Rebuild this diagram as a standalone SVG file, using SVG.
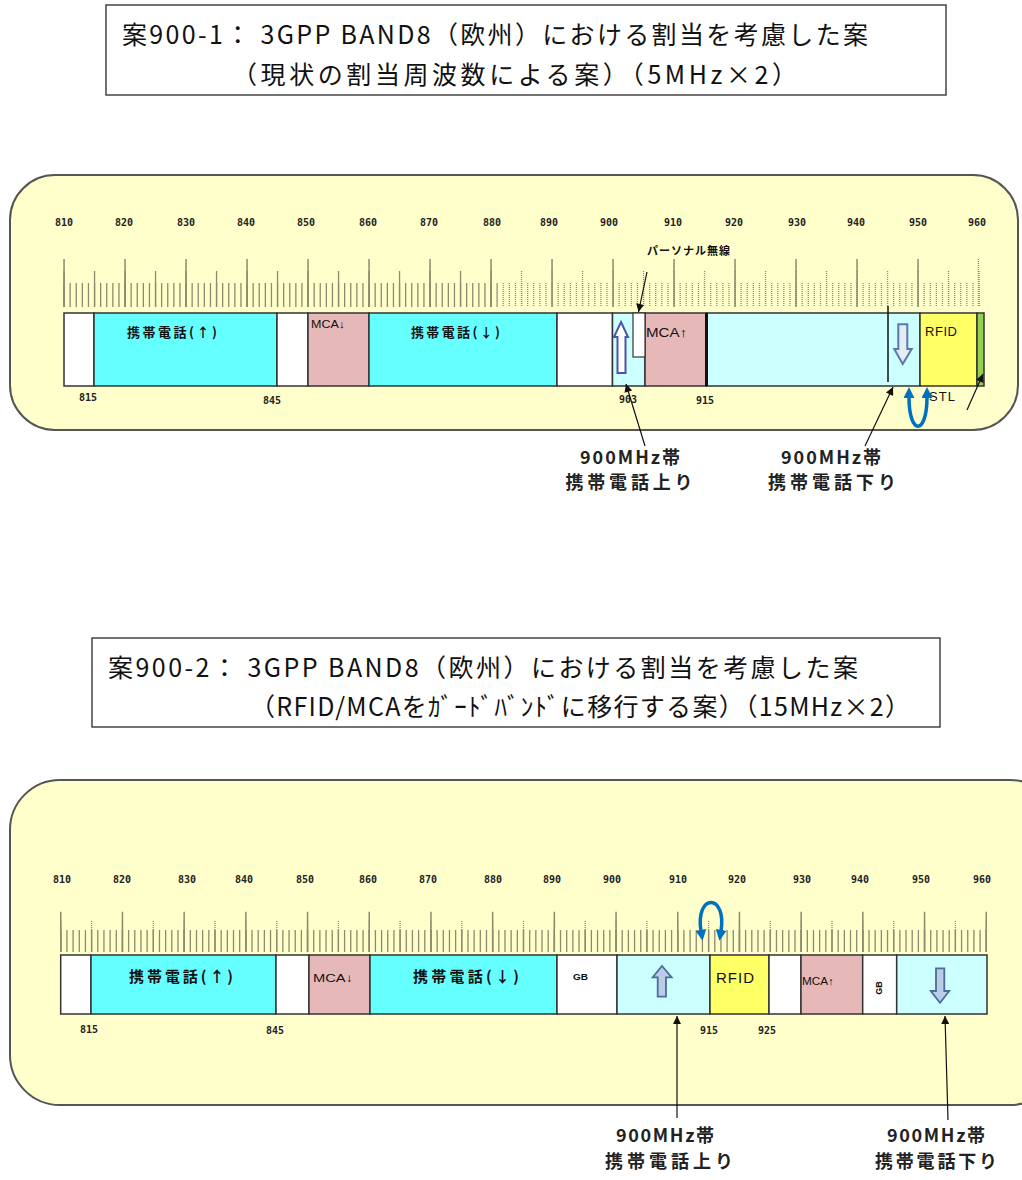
<svg xmlns="http://www.w3.org/2000/svg" width="1022" height="1180" viewBox="0 0 1022 1180">
<defs>
<style>
.title{font-family:"Noto Sans CJK JP","Liberation Sans",sans-serif;font-size:25px;fill:#111}
.panel{fill:#FFFFCC;stroke:#555;stroke-width:2}
.tbox{fill:#fff;stroke:#444;stroke-width:1.5}
.blk{stroke:#333;stroke-width:1.5}
.w{fill:#fff}.c{fill:#66FFFF}.lc{fill:#CCFFFF}.p{fill:#E6B9B8}.y{fill:#FFFF66}.g{fill:#92D050}
.tk{stroke:#8E8A6C;fill:none}
.num{font-family:"DejaVu Sans Mono","Liberation Mono",monospace;font-weight:bold;font-size:10px;fill:#222;text-anchor:middle}
.jb{font-family:"Noto Sans CJK JP",sans-serif;font-weight:bold;fill:#111}
.lat{font-family:"Liberation Sans",sans-serif;fill:#111}
.lbl{font-family:"Noto Sans CJK JP",sans-serif;font-weight:bold;font-size:18px;fill:#222;text-anchor:middle}
.ptr{stroke:#111;stroke-width:1.2;fill:none}
.blue{stroke:#0070C0;stroke-width:3.5;fill:none}
</style>
<pattern id="stripe" width="4" height="2" patternUnits="userSpaceOnUse"><rect width="4" height="1" fill="#FFFFCC"/></pattern>
<marker id="ah" viewBox="0 0 10 10" refX="10" refY="5" markerWidth="9" markerHeight="8" orient="auto" markerUnits="userSpaceOnUse"><path d="M0,0 L10,5 L0,10 Z" fill="#111"/></marker>
<marker id="bh" viewBox="0 0 10 10" refX="1" refY="5" markerWidth="11" markerHeight="11" orient="auto-start-reverse" markerUnits="userSpaceOnUse"><path d="M0,0 L10,5 L0,10 Z" fill="#0070C0"/></marker>
</defs>

<!-- ============ TOP ============ -->
<g id="title1">
<rect class="tbox" x="106" y="5" width="840" height="90"/>
<text class="title" x="122" y="44" textLength="746">案900-1： 3GPP BAND8（欧州）における割当を考慮した案</text>
<text class="title" x="232" y="84" textLength="565">（現状の割当周波数による案）（5MHz×2）</text>
</g>

<g id="panel1"><rect class="panel" x="10" y="175" width="1008" height="255" rx="45"/></g>

<g id="scale1">
<line class="tk" x1="502.6" y1="295" x2="980" y2="295" stroke-width="24" stroke-dasharray="1.3 4.8"/>
<line class="tk" x1="520.9" y1="289" x2="980" y2="289" stroke-width="36" stroke-dasharray="1.3 29.2"/>
<line class="tk" x1="978.4" y1="259" x2="978.4" y2="307" stroke-width="1.4"/>
<rect x="500" y="259" width="490" height="48" fill="url(#stripe)"/>
<line class="tk" x1="63.4" y1="295" x2="497.7" y2="295" stroke-width="24" stroke-dasharray="1.3 4.8"/>
<line class="tk" x1="63.4" y1="289" x2="497.7" y2="289" stroke-width="36" stroke-dasharray="1.3 29.2"/>
<line class="tk" x1="63.3" y1="283" x2="920" y2="283" stroke-width="48" stroke-dasharray="1.5 59.5"/>
<text class="num" x="64" y="226">810</text>
<text class="num" x="124" y="226">820</text>
<text class="num" x="186" y="226">830</text>
<text class="num" x="246" y="226">840</text>
<text class="num" x="306" y="226">850</text>
<text class="num" x="368" y="226">860</text>
<text class="num" x="429" y="226">870</text>
<text class="num" x="492" y="226">880</text>
<text class="num" x="549" y="226">890</text>
<text class="num" x="609" y="226">900</text>
<text class="num" x="673" y="226">910</text>
<text class="num" x="734" y="226">920</text>
<text class="num" x="797" y="226">930</text>
<text class="num" x="856" y="226">940</text>
<text class="num" x="918" y="226">950</text>
<text class="num" x="977" y="226">960</text>
</g>

<g id="band1">
<rect class="blk w" x="64" y="313" width="30" height="73"/>
<rect class="blk c" x="94" y="313" width="183" height="73"/>
<rect class="blk w" x="277" y="313" width="31" height="73"/>
<rect class="blk p" x="308" y="313" width="61" height="73"/>
<rect class="blk c" x="369" y="313" width="188" height="73"/>
<rect class="blk w" x="557" y="313" width="55.5" height="73"/>
<rect class="blk lc" x="612.5" y="313" width="32.5" height="73"/>
<rect class="blk p" x="645" y="313" width="61.5" height="73"/>
<rect class="blk lc" x="706.5" y="313" width="213.5" height="73"/>
<rect class="blk y" x="920" y="313" width="57" height="73"/>
<rect class="blk g" x="977" y="313" width="7" height="73"/>
<rect x="633" y="313" width="12" height="44" fill="#fff" stroke="#333" stroke-width="1.2"/>
<line x1="706.5" y1="313" x2="706.5" y2="386" stroke="#111" stroke-width="3"/>
<line x1="888" y1="306" x2="888" y2="382" stroke="#111" stroke-width="1.5"/>
<path d="M621,322 L628,337 L625.5,337 L625.5,373 L617.5,373 L617.5,337 L614,337 Z" fill="#fff" stroke="#5050B0" stroke-width="2"/>
<path d="M898.3,324.3 L907.3,324.3 L907.3,349 L911.7,349 L902.7,364 L894.3,349 L898.3,349 Z" fill="#E4ECF6" stroke="#5A78A8" stroke-width="2"/>
<text class="jb" x="127" y="337" font-size="13" textLength="90">携帯電話(↑)</text>
<text class="lat" x="311" y="328" font-size="11" textLength="34" lengthAdjust="spacingAndGlyphs">MCA↓</text>
<text class="jb" x="411" y="337" font-size="13" textLength="89">携帯電話(↓)</text>
<text class="lat" x="646" y="337" font-size="12.5" textLength="41" lengthAdjust="spacingAndGlyphs">MCA↑</text>
<text class="lat" x="925" y="336" font-size="13" textLength="32">RFID</text>
<text class="lat" x="929" y="401" font-size="13" textLength="26">STL</text>
<text class="jb" x="647" y="255" font-size="11" font-weight="normal" textLength="83">パーソナル無線</text>
<text class="num" x="88" y="401">815</text>
<text class="num" x="272" y="404">845</text>
<text class="num" x="628" y="403">903</text>
<text class="num" x="705" y="404">915</text>
</g>

<g id="connectors1">
<path class="ptr" d="M647,272 L638.5,312" marker-end="url(#ah)"/>
<path class="ptr" d="M645,446 L626,384" marker-end="url(#ah)"/>
<path class="ptr" d="M865,446 L893,387" marker-end="url(#ah)"/>
<path class="ptr" d="M967,410 L983,374" marker-end="url(#ah)"/>
<path class="blue" d="M909,397 C909,436 927,436 927,397" marker-start="url(#bh)" marker-end="url(#bh)"/>
</g>

<g id="labels1">
<text class="lbl" x="630" y="464" textLength="100">900MHz帯</text>
<text class="lbl" x="629" y="489" textLength="127">携帯電話上り</text>
<text class="lbl" x="831" y="464" textLength="100">900MHz帯</text>
<text class="lbl" x="832" y="489" textLength="128">携帯電話下り</text>
</g>

<!-- ============ BOTTOM ============ -->
<g id="title2">
<rect class="tbox" x="92" y="638" width="848" height="89"/>
<text class="title" x="108" y="677" textLength="750">案900-2： 3GPP BAND8（欧州）における割当を考慮した案</text>
<text class="title" x="250" y="716" textLength="660">（RFID/MCAをｶﾞｰﾄﾞﾊﾞﾝﾄﾞに移行する案）（15MHz×2）</text>
</g>

<g id="panel2"><rect class="panel" x="10" y="780" width="1050" height="325" rx="50"/></g>

<g id="scale2">
<line class="tk" x1="60.1" y1="941" x2="987" y2="941" stroke-width="22" stroke-dasharray="1.3 4.87"/>
<line class="tk" x1="60.1" y1="936.5" x2="987" y2="936.5" stroke-width="31" stroke-dasharray="1.3 29.55"/>
<rect x="70" y="921" width="920" height="9" fill="url(#stripe)"/>
<line class="tk" x1="60" y1="931.8" x2="987" y2="931.8" stroke-width="40" stroke-dasharray="1.5 60.2"/>
<text class="num" x="62" y="883">810</text>
<text class="num" x="122" y="883">820</text>
<text class="num" x="187" y="883">830</text>
<text class="num" x="244" y="883">840</text>
<text class="num" x="305" y="883">850</text>
<text class="num" x="368" y="883">860</text>
<text class="num" x="428" y="883">870</text>
<text class="num" x="493" y="883">880</text>
<text class="num" x="552" y="883">890</text>
<text class="num" x="612" y="883">900</text>
<text class="num" x="678" y="883">910</text>
<text class="num" x="737" y="883">920</text>
<text class="num" x="802" y="883">930</text>
<text class="num" x="860" y="883">940</text>
<text class="num" x="921" y="883">950</text>
<text class="num" x="982" y="883">960</text>
</g>

<g id="band2">
<rect class="blk w" x="60.7" y="955" width="30.3" height="59"/>
<rect class="blk c" x="91" y="955" width="185" height="59"/>
<rect class="blk w" x="276" y="955" width="33" height="59"/>
<rect class="blk p" x="309" y="955" width="61" height="59"/>
<rect class="blk c" x="370" y="955" width="187" height="59"/>
<rect class="blk w" x="557" y="955" width="60" height="59"/>
<rect class="blk lc" x="617" y="955" width="93" height="59"/>
<rect class="blk y" x="710" y="955" width="59" height="59"/>
<rect class="blk w" x="769" y="955" width="32" height="59"/>
<rect class="blk p" x="801" y="955" width="61.7" height="59"/>
<rect class="blk w" x="862.7" y="955" width="34" height="59"/>
<rect class="blk lc" x="896.7" y="955" width="90.3" height="59"/>
<path d="M662,966 L671.7,977.3 L666,977.3 L666,996.7 L657.7,996.7 L657.7,977.3 L652.7,977.3 Z" fill="#B9CDE5" stroke="#4F6B9B" stroke-width="1.8"/>
<path d="M936,968.3 L944.3,968.3 L944.3,991 L949.3,991 L940,1002.7 L930.7,991 L936,991 Z" fill="#B9CDE5" stroke="#4F6B9B" stroke-width="1.8"/>
<text class="jb" x="129" y="982" font-size="15" textLength="104">携帯電話(↑)</text>
<text class="lat" x="313" y="982" font-size="11.5" textLength="40" lengthAdjust="spacingAndGlyphs">MCA↓</text>
<text class="jb" x="413" y="982" font-size="15" textLength="106">携帯電話(↓)</text>
<text class="lat" x="573" y="980" font-size="9" font-weight="bold" textLength="15" lengthAdjust="spacingAndGlyphs">GB</text>
<text class="lat" x="716" y="983" font-size="15" textLength="38">RFID</text>
<text class="lat" x="802" y="985" font-size="11" textLength="32" lengthAdjust="spacingAndGlyphs">MCA↑</text>
<text class="lat" x="879" y="991" font-size="9" font-weight="bold" text-anchor="middle" transform="rotate(-90 879 988)">GB</text>
<text class="num" x="89" y="1033">815</text>
<text class="num" x="275" y="1034">845</text>
<text class="num" x="709" y="1034">915</text>
<text class="num" x="767" y="1034">925</text>
</g>

<g id="connectors2">
<path class="ptr" d="M677,1118 L677,1016" marker-end="url(#ah)"/>
<path class="ptr" d="M948,1120 L945,1016" marker-end="url(#ah)"/>
<path class="blue" d="M701,931 C695,893 727,893 721,931" marker-start="url(#bh)" marker-end="url(#bh)"/>
</g>

<g id="labels2">
<text class="lbl" x="665" y="1142" textLength="98">900MHz帯</text>
<text class="lbl" x="669" y="1168" textLength="128">携帯電話上り</text>
<text class="lbl" x="936" y="1142" textLength="98">900MHz帯</text>
<text class="lbl" x="936" y="1168" textLength="122">携帯電話下り</text>
</g>
</svg>
